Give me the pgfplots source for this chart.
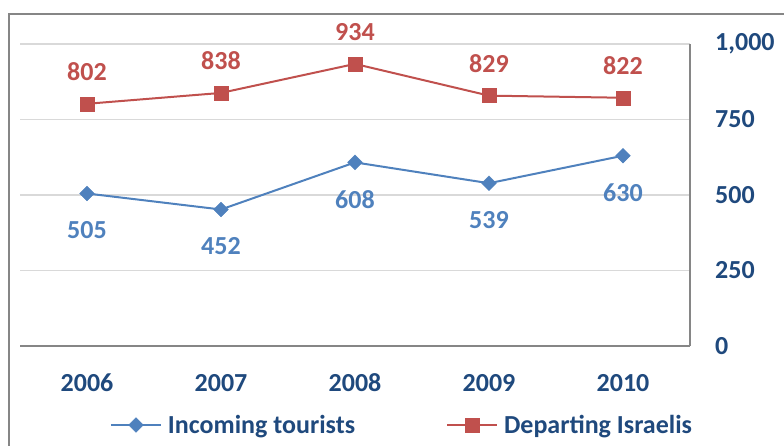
\documentclass[border=0pt]{standalone}
\usepackage{pgfplots}
\pgfplotsset{compat=1.18}
\usepackage{fontspec}
\setmainfont{Carlito}
\definecolor{tblue}{HTML}{4F81BD}
\definecolor{tred}{HTML}{C0504D}
\definecolor{tnavy}{HTML}{1F497D}
\definecolor{gridc}{HTML}{D9D9D9}
\definecolor{axisc}{HTML}{868686}
\newcommand{\bigfont}{\fontsize{26bp}{30bp}\selectfont\bfseries}

\begin{document}
\begin{tikzpicture}
\begin{axis}[
  at={(20bp,100bp)}, anchor=south west,
  scale only axis, width=670bp, height=302bp,
  xmin=-0.5, xmax=4.5, ymin=0, ymax=1000,
  axis x line*=bottom, axis y line*=right,
  axis line style={axisc, line width=1.5bp},
  xtick={0,1,2,3,4}, xticklabels={2006,2007,2008,2009,2010},
  ytick={0,250,500,750,1000},
  major tick length=0pt,
  ymajorgrids, grid style={gridc, line width=1.2bp},
  tick label style={font=\bigfont, text=tnavy, inner sep=0pt},
  /pgf/number format/assume math mode=true,
  /pgf/number format/1000 sep={,},
  scaled y ticks=false,
  yticklabel style={anchor=west, xshift=25bp},
  xticklabel style={anchor=center, yshift=-37bp},
  clip=false,
  legend image code/.code={\draw[mark repeat=2,mark phase=2,#1] plot coordinates {(0bp,0bp)(25bp,0bp)(50bp,0bp)};},
  legend style={at={(axis description cs:0.1343,0)}, anchor=west, yshift=-79bp,
    draw=none, fill=none, inner sep=0pt, outer sep=0pt,
    font=\bigfont, text=tnavy, nodes={inner sep=0pt},
    /tikz/every odd column/.append style={column sep=6bp},
    /tikz/every even column/.append style={column sep=91bp}},
  legend columns=2, legend cell align=left,
]
\addplot[tblue, line width=2bp, mark=square*, mark size=5.2bp,
  mark options={rotate=45, line width=0.5bp},
  nodes near coords,
  every node near coord/.append style={font=\bigfont, text=tblue, anchor=center, inner sep=0pt, yshift=-37bp}]
  coordinates {(0,505) (1,452) (2,608) (3,539) (4,630)};
\addlegendentry{Incoming tourists}
\addplot[tred, line width=2bp, mark=square*, mark size=7bp,
  mark options={line width=0.5bp},
  nodes near coords,
  every node near coord/.append style={font=\bigfont, text=tred, anchor=center, inner sep=0pt, yshift=32bp}]
  coordinates {(0,802) (1,838) (2,934) (3,829) (4,822)};
\addlegendentry{Departing Israelis}
\end{axis}
\draw[color=axisc, line width=1.5bp] (9bp,-50bp) rectangle (900bp,432bp);
\pgfresetboundingbox
\path[use as bounding box] (0bp,0bp) rectangle (784bp,446bp);
\end{tikzpicture}
\end{document}
